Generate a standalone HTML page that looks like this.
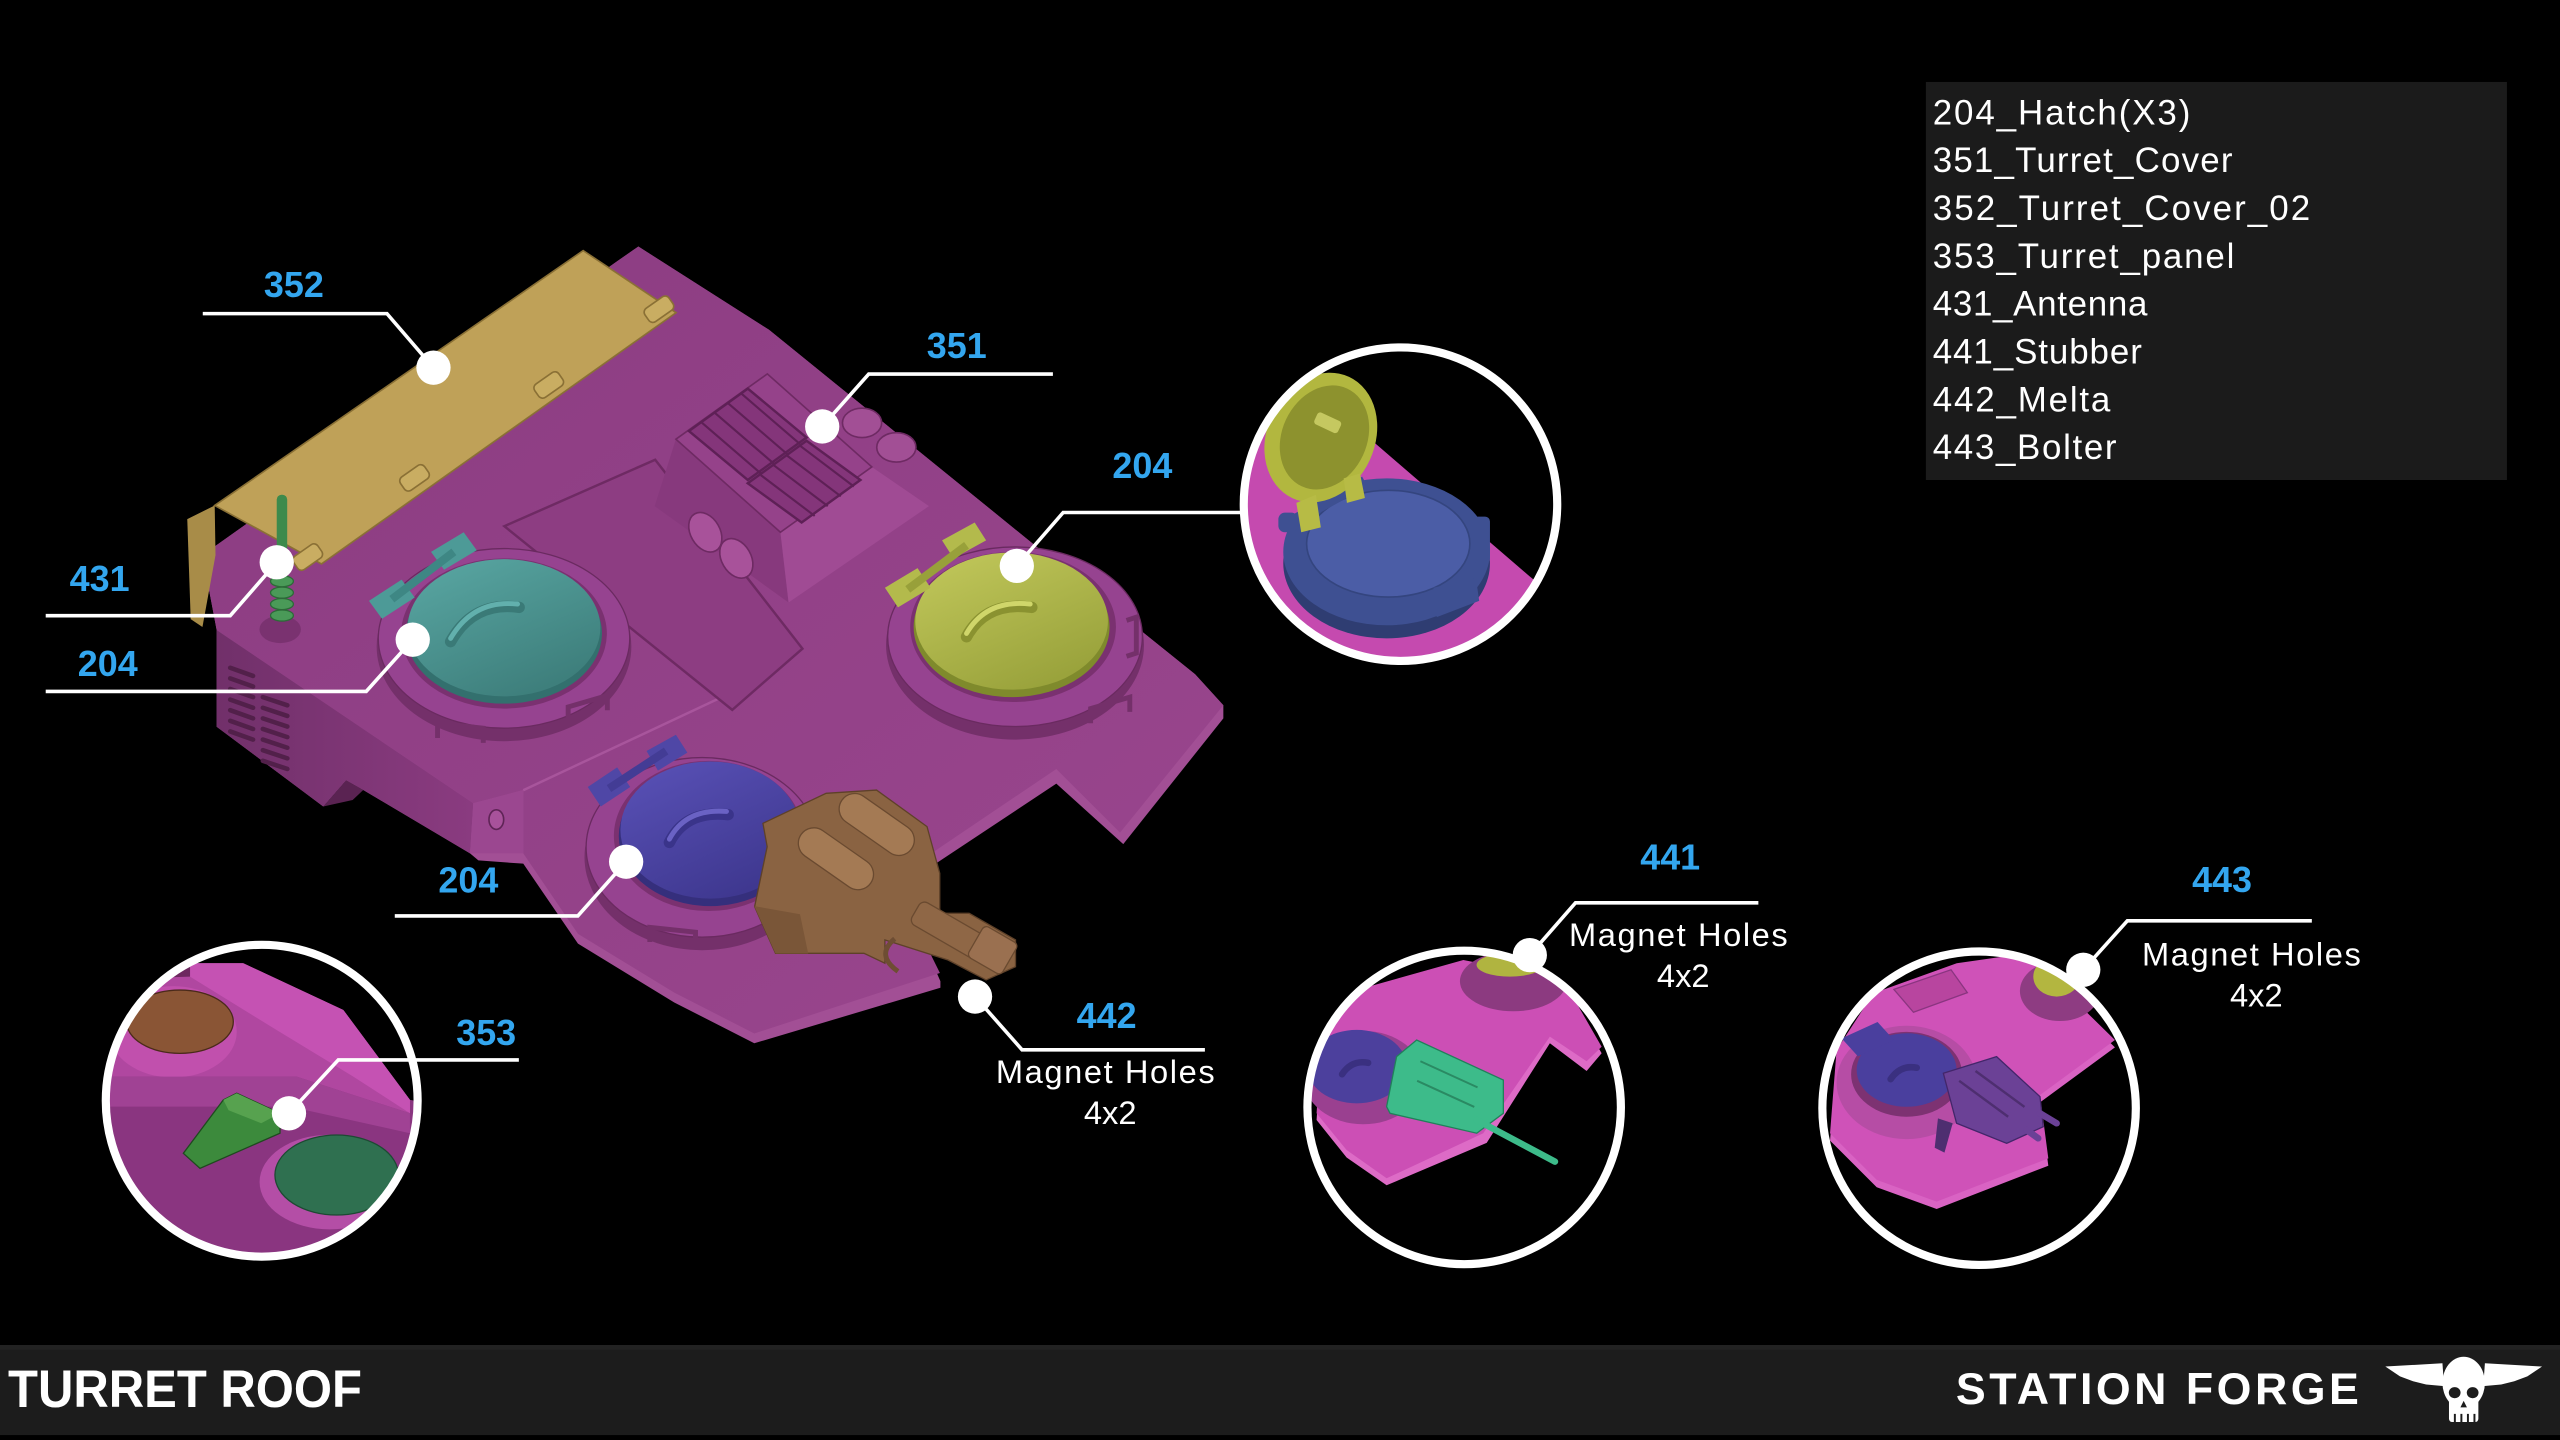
<!DOCTYPE html>
<html><head><meta charset="utf-8"><style>html,body{margin:0;padding:0;background:#000;}svg{display:block;}</style></head>
<body>
<svg xmlns="http://www.w3.org/2000/svg" width="2560" height="1440" viewBox="0 0 1568 882" font-family="'Liberation Sans', sans-serif">
<defs>
<clipPath id="c1"><circle cx="857.8" cy="308.8" r="96"/></clipPath>
<clipPath id="c2"><circle cx="160.3" cy="674.2" r="95.5"/></clipPath>
<clipPath id="c3"><circle cx="896.8" cy="678.3" r="96"/></clipPath>
<clipPath id="c4"><circle cx="1212.2" cy="678.8" r="96"/></clipPath>
<linearGradient id="gTeal" x1="0" y1="0" x2="0.6" y2="1"><stop offset="0" stop-color="#5aa8a4"/><stop offset="1" stop-color="#3e7f7c"/></linearGradient>
<linearGradient id="gYel" x1="0" y1="0" x2="0.6" y2="1"><stop offset="0" stop-color="#c3c95c"/><stop offset="1" stop-color="#9aa33c"/></linearGradient>
<linearGradient id="gBlue" x1="0" y1="0" x2="0.6" y2="1"><stop offset="0" stop-color="#5a52b8"/><stop offset="1" stop-color="#3f3890"/></linearGradient>
<linearGradient id="gBody" x1="0" y1="0" x2="1" y2="1"><stop offset="0" stop-color="#8b3c81"/><stop offset="1" stop-color="#9a468e"/></linearGradient>
<linearGradient id="gSide" x1="0" y1="0" x2="1" y2="0"><stop offset="0" stop-color="#71306a"/><stop offset="1" stop-color="#8a3b80"/></linearGradient>
</defs>
<rect width="1568" height="882" fill="#000"/>

<!-- ===== MAIN TURRET BODY ===== -->
<polygon points="378,160 391,151 471,202 508,232 555,270 640,339 732,413 749.3,432 749.3,440 688,517 647,480 570,531 552,546 576,601 576,605 462,639 413,614 354,578 320.5,529 293,527 287.9,522.7 222.5,483.9 212,478 198,494 132.7,445.1 132.7,385.9 124,340" fill="#a24f95"/>
<polygon points="378,160 391,151 471,202 508,232 555,270 640,339 732,413 749.3,432 686,510 647,471 570,523 548,540 575.7,596 462,633 413,608 354,572 320.5,522.7 320.5,483.9 289.9,492 132.7,385.9 124,340" fill="url(#gBody)"/>
<!-- left side face -->
<polygon points="132.7,385.9 289.9,492 287.9,522.7 222.5,483.9 212,478 198,494 132.7,445.1" fill="url(#gSide)"/>
<polygon points="198,494 212,478 222.5,483.9 216,490" fill="#5a2352"/>
<g stroke="#52204a" stroke-width="2.8" stroke-linecap="round">
<path d="M141,409 l14,5 M141,415.5 l14,5 M141,422 l14,5 M141,428.5 l14,5 M141,435 l14,5 M141,441.5 l14,5 M141,448 l14,5"/>
<path d="M161,427 l15,5 M161,433.5 l15,5 M161,440 l15,5 M161,446.5 l15,5 M161,453 l15,5 M161,459.5 l15,5 M161,466 l15,5"/>
</g>
<!-- chamfer face -->
<polygon points="289.9,492 320.5,483.9 320.5,522.7 287.9,522.7" fill="#9b4790"/>
<ellipse cx="304" cy="502" rx="4.5" ry="6" fill="#a8529b" stroke="#5f2456" stroke-width="1"/>
<path d="M320.5,484 L440,428" stroke="#a8559c" stroke-width="1.5"/>
<!-- recessed panel -->
<polygon points="308.9,322.3 401.3,281.6 491.5,397.3 448.5,434.8" fill="#8d3d82" stroke="#6e2a63" stroke-width="1.5"/>

<!-- vent box 351 -->
<polygon points="414,269 478,326 483,369 401,310" fill="#87397d"/>
<polygon points="478,326 534,286 569,310 483,369" fill="#a04b94"/>
<polygon points="414,269 470,229 534,286 478,326" fill="#95428a" stroke="#6e2a63" stroke-width="1"/>
<polygon points="422,264 458,238 494,268 458,294" fill="#84357a" stroke="#5e2056" stroke-width="1.5"/>
<polygon points="458,296 494,270 527,294 491,320" fill="#84357a" stroke="#5e2056" stroke-width="1.5"/>
<g stroke="#5e2056" stroke-width="1.3">
<path d="M430,259 l36,31 M438,253 l36,31 M446,247 l36,31 M454,241 l36,31"/>
<path d="M466,291 l33,25 M474,285 l33,25 M482,279 l33,25 M490,273 l33,25"/>
</g>
<ellipse cx="528" cy="259" rx="12" ry="9" fill="#a24f95" stroke="#6e2a63" stroke-width="1"/>
<ellipse cx="549" cy="274" rx="12" ry="9" fill="#a24f95" stroke="#6e2a63" stroke-width="1"/>
<ellipse cx="432" cy="326" rx="9" ry="13" transform="rotate(-30 432 326)" fill="#a8529a" stroke="#6e2a63" stroke-width="1"/>
<ellipse cx="451" cy="342" rx="9" ry="13" transform="rotate(-30 451 342)" fill="#a8529a" stroke="#6e2a63" stroke-width="1"/>

<!-- yellow cover 352 -->
<polygon points="131.5,309.6 114.7,318 116.8,379.2 124,384 132,340" fill="#a88c48"/>
<polygon points="131.5,309.6 357.2,153.5 414.1,191.5 196.9,345.4" fill="#bfa158" stroke="#8a7035" stroke-width="1"/>
<g fill="#c9ad62" stroke="#8a7035" stroke-width="1">
<rect x="-9" y="-5" width="18" height="10" rx="3" transform="translate(403.6,189.4) rotate(-35)"/>
<rect x="-9" y="-5" width="18" height="10" rx="3" transform="translate(336.1,235.8) rotate(-35)"/>
<rect x="-9" y="-5" width="18" height="10" rx="3" transform="translate(253.9,292.7) rotate(-35)"/>
<rect x="-9" y="-5" width="18" height="10" rx="3" transform="translate(188.5,341.2) rotate(-35)"/>
</g>
<!-- antenna 431 -->
<ellipse cx="171.6" cy="385.5" rx="12.7" ry="8.4" fill="#7a3270"/>
<rect x="169.5" y="303" width="6.4" height="50" rx="3" fill="#3d8a4c"/>
<g fill="#4a9a58" stroke="#2c6a38" stroke-width="0.8">
<ellipse cx="172.7" cy="356" rx="7" ry="3.4"/>
<ellipse cx="172.7" cy="363" rx="7" ry="3.4"/>
<ellipse cx="172.7" cy="370" rx="7" ry="3.4"/>
<ellipse cx="172.7" cy="377" rx="7" ry="3.4"/>
</g>

<!-- teal hatch -->
<ellipse cx="308.7" cy="396" rx="78" ry="58" fill="#74306a"/>
<ellipse cx="308.7" cy="391" rx="77" ry="55" fill="#964390" stroke="#6a2a60" stroke-width="0.8"/>
<ellipse cx="308.7" cy="388" rx="63" ry="46" fill="#7a3170"/>
<ellipse cx="308.7" cy="388" rx="60" ry="43" fill="#33706e"/>
<ellipse cx="308.7" cy="384.5" rx="59" ry="42" fill="url(#gTeal)"/>
<polygon points="226,368 246,355 254,366 234,379" fill="#4d9a97"/>
<polygon points="264,338 284,326 292,337 272,349" fill="#4d9a97"/>
<line x1="240" y1="367" x2="278" y2="338" stroke="#3e8784" stroke-width="5"/>
<path d="M276,393 Q290,368 318,372" fill="none" stroke="#3a7a77" stroke-width="7" stroke-linecap="round"/>
<path d="M276,391 Q290,367 317,370" fill="none" stroke="#62b0ad" stroke-width="3" stroke-linecap="round"/>
<g fill="none" stroke="#74306a" stroke-width="3">
<path d="M268,452 v-9 l28,3 v9"/>
<path d="M348,442 v-9 l24,-7 v9"/>
</g>
<!-- yellow-green hatch -->
<ellipse cx="621.7" cy="395" rx="79" ry="58" fill="#74306a"/>
<ellipse cx="621.7" cy="390" rx="78" ry="55" fill="#964390" stroke="#6a2a60" stroke-width="0.8"/>
<ellipse cx="620.5" cy="384" rx="63" ry="46" fill="#7a3170"/>
<ellipse cx="619.6" cy="384" rx="60" ry="43" fill="#7f8a2c"/>
<ellipse cx="619.6" cy="380.4" rx="59" ry="42" fill="url(#gYel)"/>
<polygon points="542,360 562,348 570,360 550,372" fill="#b3ba4c"/>
<polygon points="577,331 597,320 604,331 584,342" fill="#b3ba4c"/>
<line x1="556" y1="361" x2="592" y2="334" stroke="#98a03a" stroke-width="5"/>
<path d="M592,390 Q604,368 632,372" fill="none" stroke="#8a9230" stroke-width="7" stroke-linecap="round"/>
<path d="M592,388 Q604,367 631,370" fill="none" stroke="#d0d66a" stroke-width="3" stroke-linecap="round"/>
<g fill="none" stroke="#74306a" stroke-width="3">
<path d="M668,443 v-9 l24,-7 v9"/>
<path d="M690,380 l6,-2 v22 l-6,2"/>
</g>
<!-- blue hatch -->
<ellipse cx="430" cy="525" rx="72" ry="57" fill="#74306a"/>
<ellipse cx="430" cy="519" rx="71" ry="55" fill="#964390" stroke="#6a2a60" stroke-width="0.8"/>
<ellipse cx="434" cy="512" rx="58" ry="46" fill="#7a3170"/>
<ellipse cx="435" cy="512" rx="56" ry="43" fill="#352f7c"/>
<ellipse cx="435" cy="508.4" rx="55" ry="42" fill="url(#gBlue)"/>
<polygon points="360,482 378,470 386,482 368,494" fill="#4f47a6"/>
<polygon points="396,460 414,450 421,461 403,472" fill="#4f47a6"/>
<line x1="373" y1="483" x2="408" y2="460" stroke="#433c95" stroke-width="5"/>
<path d="M410,516 Q420,496 446,499" fill="none" stroke="#3a348a" stroke-width="7" stroke-linecap="round"/>
<path d="M410,514 Q420,495 445,497" fill="none" stroke="#6a62c4" stroke-width="3" stroke-linecap="round"/>
<g fill="none" stroke="#74306a" stroke-width="3">
<path d="M398,577 v-9 l28,3 v9"/>
</g>

<!-- brown melta 442 -->
<polygon points="467.3,504.3 506,485.9 536.9,483.9 567.8,506.3 575.6,534.9 575.6,559.4 593.6,559.4 622,575.7 622,592.1 604,600.2 580.7,588 542,575.7 542,590 529.2,583.9 475,583.9 462.2,555.3 469.9,518.6" fill="#8a6342" stroke="#5e4129" stroke-width="0.8"/>
<polygon points="462,555 475,584 495,584 490,560" fill="#7a5638"/>
<rect x="-26" y="-9.5" width="52" height="19" rx="9.5" transform="translate(537,505) rotate(35)" fill="#a47a54" stroke="#6a4a30" stroke-width="0.8"/>
<rect x="-26" y="-9.5" width="52" height="19" rx="9.5" transform="translate(512,526) rotate(35)" fill="#a47a54" stroke="#6a4a30" stroke-width="0.8"/>
<rect x="-28" y="-8" width="56" height="16" rx="4" transform="translate(585,572) rotate(30)" fill="#8f6746" stroke="#6a4a30" stroke-width="0.8"/>
<rect x="-12" y="-11" width="24" height="22" rx="3" transform="translate(608,582) rotate(30)" fill="#9a7050" stroke="#6a4a30" stroke-width="0.8"/>
<path d="M548,575 q-12,10 2,20" fill="none" stroke="#6e4d33" stroke-width="3"/>

<!-- ===== INSET 1 (hatch open) ===== -->
<g clip-path="url(#c1)">
<polygon points="779.9,240.9 841.1,270.5 937.1,353.2 977.9,385.9 977.9,426.7 753.4,426.7 753.4,243" fill="#c54aaf"/>
<ellipse cx="849.3" cy="345" rx="63.3" ry="46" fill="#2f3d72"/>
<ellipse cx="849.3" cy="338" rx="63.3" ry="45" fill="#3e5092"/>
<ellipse cx="850.3" cy="333" rx="50" ry="32.7" fill="#4b5da6" stroke="#34457f" stroke-width="1"/>
<rect x="902.4" y="316.4" width="10.2" height="28.6" rx="3" fill="#3e5092"/>
<path d="M878,360 l26,-6 l2,14 l-26,10z" fill="#3e5092"/>
<rect x="783" y="314" width="12" height="12" rx="4" fill="#3e5092"/>
<line x1="794" y1="318" x2="836" y2="295" stroke="#3e5092" stroke-width="7"/>
<g transform="rotate(25 809 268)">
<ellipse cx="809" cy="268" rx="33" ry="41" fill="#b2b73f"/>
<ellipse cx="811" cy="267" rx="26" ry="33" fill="#8d922e"/>
<rect x="801" y="254" width="16" height="8" rx="2" fill="#c5c860"/>
</g>
<polygon points="794,308 806,303 809,323 797,326" fill="#b7bb45"/>
<polygon points="823,293 833,290 836,305 825,308" fill="#b7bb45"/>
</g>

<!-- ===== INSET 2 (353) ===== -->
<g clip-path="url(#c2)">
<rect x="60" y="575" width="205" height="200" fill="#8a3580"/>
<polygon points="116.4,563 275.6,563 275.6,677.8 251.1,673.7 210.3,618.6 149,590 116.4,590" fill="#000"/>
<polygon points="60,594.1 116.4,590 149,590 210.3,618.6 251.1,673.7 251.1,681.9 181.7,659.4 60,659.4" fill="#b047a0"/>
<polygon points="116.4,590 149,590 210.3,618.6 251.1,673.7 251.1,681.9 216.4,659.4 169.4,630.9 116.4,598.2" fill="#c552b3"/>
<polygon points="60,580 116.4,590 116.4,598.2 60,600" fill="#6e2860"/>
<ellipse cx="106" cy="632" rx="39" ry="28" fill="#c150ad"/>
<ellipse cx="110.2" cy="625.8" rx="32.7" ry="19.4" fill="#8a5535" stroke="#4a2a1a" stroke-width="0.8"/>
<polygon points="60,659.4 181.7,659.4 251.1,681.9 251.1,694.1 177.6,677.8 60,677.8" fill="#a04294"/>
<ellipse cx="202" cy="724" rx="43" ry="29" fill="#b44ea6"/>
<ellipse cx="206.2" cy="719.7" rx="37.8" ry="24.5" fill="#2f7050" stroke="#1d4a33" stroke-width="0.8"/>
<polygon points="112.3,706.4 136.8,673.7 145,669.6 171.5,681.9 171.5,694.1 122.5,715.6" fill="#3c8a3c" stroke="#1f4a1f" stroke-width="0.8"/>
<polygon points="136.8,673.7 145,669.6 171.5,681.9 160,688 140,680" fill="#57a24f"/>
</g>

<!-- ===== INSET 3 (441) ===== -->
<g clip-path="url(#c3)">
<polygon points="810.5,627 830.9,610.4 896.3,592 957.5,604.2 981,645.1 971.8,656 949.3,639 910.6,700 849.3,726 824.8,709 806.4,686" fill="#dd6bc6"/>
<polygon points="810.5,622.7 830.9,606.4 896.3,588 957.5,600.2 981,641.1 971.8,650 949.3,634.9 908.5,694.1 849.3,721.7 824.8,704.4 806.4,681.9" fill="#cc4fb5"/>
<ellipse cx="835" cy="660" rx="36.7" ry="28.6" fill="#9a4090"/>
<ellipse cx="831" cy="653.3" rx="30.6" ry="22.5" fill="#4c409d"/>
<path d="M822,658 q6,-9 16,-7" fill="none" stroke="#3a3080" stroke-width="4" stroke-linecap="round"/>
<ellipse cx="926.9" cy="601" rx="32.7" ry="18.4" fill="#8c3a80"/>
<ellipse cx="924.8" cy="591" rx="20.4" ry="7.2" fill="#b0b440"/>
<polygon points="849.3,677.8 855.4,647.2 867.7,637 920.8,661.5 920.8,681.9 904.5,694.1 851.4,681.9" fill="#3dbb8a" stroke="#21805a" stroke-width="0.8"/>
<line x1="904.5" y1="686" x2="952.4" y2="711.5" stroke="#3dbb8a" stroke-width="4" stroke-linecap="round"/>
<path d="M870,650 l35,16 M868,662 l35,16" stroke="#2a8a63" stroke-width="1.2"/>
</g>

<!-- ===== INSET 4 (443) ===== -->
<g clip-path="url(#c4)">
<polygon points="1120.9,698.6 1124.9,647.6 1147.4,612.9 1198.5,594.5 1241.3,588.4 1295.4,641.5 1249.5,675.2 1254.6,714 1186.2,740.5 1149.5,727.2" fill="#d963c3"/>
<polygon points="1120.9,694.1 1124.9,643.1 1147.4,608.4 1198.5,590 1241.3,583.9 1295.4,637 1249.5,670.7 1254.6,709.5 1186.2,736 1149.5,722.7" fill="#cf52b8"/>
<polygon points="1160,606 1195,594 1205,608 1172,620" fill="#b8459f" stroke="#8a3580" stroke-width="0.8"/>
<ellipse cx="1167.8" cy="663" rx="42.9" ry="34.7" fill="#b64da5"/>
<ellipse cx="1167.8" cy="658" rx="34" ry="26" fill="#7d3272"/>
<ellipse cx="1167.8" cy="655.4" rx="30.6" ry="22.5" fill="#4a3f9e"/>
<polygon points="1128,636 1150,626 1160,637 1138,647" fill="#4a3f9e"/>
<path d="M1158,661 q6,-9 16,-7" fill="none" stroke="#3a3080" stroke-width="4" stroke-linecap="round"/>
<ellipse cx="1261.7" cy="607" rx="24.5" ry="18.4" fill="#8e3c82"/>
<ellipse cx="1259.7" cy="598.2" rx="14.3" ry="12.2" fill="#b3b640"/>
<polygon points="1187,685 1196,688 1191,706 1185,703" fill="#4e2e70"/>
<polygon points="1190.3,657.4 1222.9,647.2 1249.5,671.7 1251.5,690.1 1229.1,700.3 1198.4,688" fill="#6b4196" stroke="#43266a" stroke-width="0.8"/>
<path d="M1200,662 l30,22 M1210,656 l30,22" stroke="#4e2e70" stroke-width="1.5"/>
<line x1="1249.5" y1="681.9" x2="1259.7" y2="688" stroke="#6b4196" stroke-width="4" stroke-linecap="round"/>
<line x1="1241.3" y1="692.1" x2="1248.4" y2="697.2" stroke="#6b4196" stroke-width="4" stroke-linecap="round"/>
</g>

<!-- inset circles -->
<g fill="none" stroke="#fff" stroke-width="5">
<circle cx="857.8" cy="308.8" r="96"/>
<circle cx="160.3" cy="674.2" r="95.5"/>
<circle cx="896.8" cy="678.3" r="96"/>
<circle cx="1212.2" cy="678.8" r="96"/>
</g>

<!-- leader lines -->
<g fill="none" stroke="#fff" stroke-width="2.2">
<path d="M124.2,192.1 H237 L265.5,225.2"/>
<path d="M644.9,229.1 H532.1 L503.6,261.2"/>
<path d="M761,313.9 H651.2 L622.8,346.6"/>
<path d="M28,377.1 H141 L169.5,344.4"/>
<path d="M28,423.5 H224.3 L252.8,391.8"/>
<path d="M241.8,561 H353.9 L383.5,527.8"/>
<path d="M597.2,610.4 L626,643 H738"/>
<path d="M317.8,649.2 H207.2 L177,681.9"/>
<path d="M1077,553 H965 L937,585"/>
<path d="M1416,564 H1303 L1276,594"/>
</g>
<g fill="#fff">
<circle cx="265.5" cy="225.2" r="10.5"/>
<circle cx="503.6" cy="261.2" r="10.5"/>
<circle cx="622.8" cy="346.6" r="10.5"/>
<circle cx="169.5" cy="344.4" r="10.5"/>
<circle cx="252.8" cy="391.8" r="10.5"/>
<circle cx="383.5" cy="527.8" r="10.5"/>
<circle cx="597.2" cy="610.4" r="10.5"/>
<circle cx="177" cy="681.9" r="10.5"/>
<circle cx="937" cy="585" r="10.5"/>
<circle cx="1276" cy="594" r="10.5"/>
</g>

<!-- blue labels -->
<g fill="#33a6ef" font-size="22" font-weight="bold" text-anchor="middle">
<text x="180" y="182">352</text>
<text x="586" y="219.4">351</text>
<text x="699.7" y="292.8">204</text>
<text x="61" y="362">431</text>
<text x="66" y="414">204</text>
<text x="286.9" y="546.7">204</text>
<text x="677.8" y="629.8">442</text>
<text x="297.8" y="640">353</text>
<text x="1023" y="532.5">441</text>
<text x="1361" y="546.5">443</text>
</g>

<!-- magnet text -->
<g fill="#fff" font-size="20" text-anchor="middle">
<text x="677" y="663.5" textLength="134" lengthAdjust="spacing">Magnet Holes</text>
<text x="680" y="688.5">4x2</text>
<text x="1028" y="579.5" textLength="134" lengthAdjust="spacing">Magnet Holes</text>
<text x="1031" y="604.5">4x2</text>
<text x="1379" y="591.5" textLength="134" lengthAdjust="spacing">Magnet Holes</text>
<text x="1382" y="616.5">4x2</text>
</g>

<!-- legend -->
<rect x="1179.6" y="50.2" width="355.9" height="243.8" fill="#1b1b1b"/>
<g fill="#fff" font-size="21.4">
<text x="1183.8" y="76.2" textLength="157.8" lengthAdjust="spacing">204_Hatch(X3)</text>
<text x="1183.8" y="105.5" textLength="183.6" lengthAdjust="spacing">351_Turret_Cover</text>
<text x="1183.8" y="134.8" textLength="231.2" lengthAdjust="spacing">352_Turret_Cover_02</text>
<text x="1183.8" y="164.1" textLength="184.8" lengthAdjust="spacing">353_Turret_panel</text>
<text x="1183.8" y="193.4" textLength="131.5" lengthAdjust="spacing">431_Antenna</text>
<text x="1183.8" y="222.7" textLength="128.1" lengthAdjust="spacing">441_Stubber</text>
<text x="1183.8" y="252" textLength="108.8" lengthAdjust="spacing">442_Melta</text>
<text x="1183.8" y="281.3" textLength="112.6" lengthAdjust="spacing">443_Bolter</text>
</g>

<!-- bottom bar -->
<rect x="0" y="823.8" width="1568" height="55.2" fill="#1c1c1c"/>
<rect x="0" y="823.8" width="1568" height="3" fill="#222"/>
<text x="4.9" y="861.8" fill="#fff" font-size="32.5" font-weight="bold" textLength="216.8" lengthAdjust="spacingAndGlyphs">TURRET ROOF</text>
<text x="1198" y="860" fill="#fff" font-size="27.4" font-weight="bold" textLength="246.8" lengthAdjust="spacing">STATION FORGE</text>
<!-- skull logo -->
<g fill="#fff">
<polygon points="1461,837 1496,835 1497,849 1486,848 1478,846 1470,843"/>
<polygon points="1557,837 1522,835 1521,849 1532,848 1540,846 1548,843"/>
<ellipse cx="1509" cy="847" rx="13" ry="16"/>
<rect x="1500" y="855" width="18" height="16" rx="2"/>
</g>
<g fill="#1c1c1c">
<ellipse cx="1503.5" cy="853" rx="3.6" ry="3.4"/>
<ellipse cx="1514.5" cy="853" rx="3.6" ry="3.4"/>
<polygon points="1509,858 1507,862 1511,862"/>
<rect x="1503" y="866" width="1.2" height="5"/>
<rect x="1507" y="866" width="1.2" height="5"/>
<rect x="1511" y="866" width="1.2" height="5"/>
<rect x="1515" y="866" width="1.2" height="5"/>
</g>
</svg>
</body></html>
